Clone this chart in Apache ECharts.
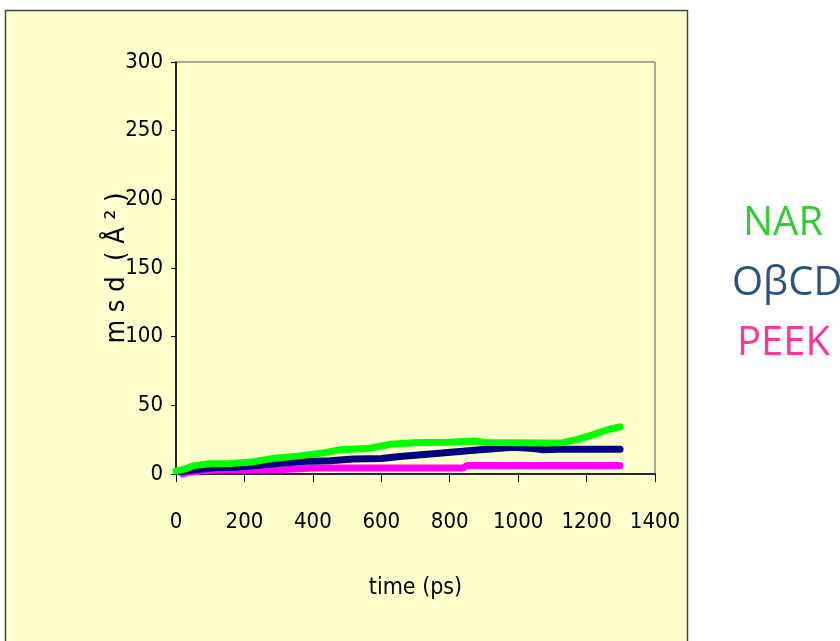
<!DOCTYPE html>
<html>
<head>
<meta charset="utf-8">
<script src="https://cdn.jsdelivr.net/npm/echarts@6/dist/echarts.min.js"></script>
<style>
  html, body { margin: 0; padding: 0; background: #ffffff; }
  #chart { width: 840px; height: 641px; }
</style>
</head>
<body>
<div id="chart"></div>
<script>
// Mean square displacement over simulation time for three molecules
const seriesNames = ['NAR', 'OβCD', 'PEEK'];

const narTime = [0, 25, 49, 98, 160, 224, 283, 361, 439, 478, 560, 625, 712, 800, 869, 908, 1000, 1074, 1130, 1171, 1220, 1269, 1298];
const narMsd  = [2.2, 3.5, 5.9, 7.4, 7.6, 8.8, 11.3, 13.2, 15.7, 17.6, 18.5, 21.6, 23.0, 23.2, 24.0, 23.0, 22.8, 22.5, 22.8, 25.0, 28.7, 32.8, 34.3];

const obcdTime = [10, 60, 117, 180, 244, 303, 381, 450, 518, 600, 654, 752, 820, 889, 986, 1045, 1074, 1120, 1200, 1298];
const obcdMsd  = [1.7, 3.2, 4.7, 5.0, 6.4, 7.8, 9.3, 9.6, 11.0, 11.3, 12.7, 14.7, 16.2, 17.6, 19.4, 18.6, 17.6, 18.1, 18.1, 18.1];

const peekTime = [20, 39, 117, 300, 400, 600, 840, 850, 1000, 1298];
const peekMsd  = [0.0, 1.5, 2.9, 3.0, 4.4, 4.4, 4.4, 6.1, 6.1, 6.1];

const xTicks = { min: 0, max: 1400, interval: 200 };
const yTicks = { min: 0, max: 300, interval: 50 };

const lineColors  = ['#00ff00', '#000080', '#ff00ff'];
const labelColors = ['#33cc33', '#2b5282', '#ff3399'];
const labelLeft   = [738, 727, 732];
const labelTop    = [204, 264, 324];

const zip = (t, v) => t.map((x, i) => [x, v[i]]);
const seriesData = [zip(narTime, narMsd), zip(obcdTime, obcdMsd), zip(peekTime, peekMsd)];

const tickFont = '"DejaVu Sans Condensed", sans-serif';
const chart = echarts.init(document.getElementById('chart'), null, { renderer: 'canvas' });

chart.setOption({
  backgroundColor: '#ffffff',
  animation: false,
  graphic: [{
    type: 'rect',
    z: -10,
    silent: true,
    shape: { x: 5.5, y: 10.5, width: 682, height: 640 },
    style: { fill: '#ffffcc', stroke: '#444444', lineWidth: 1.5 }
  }],
  legend: seriesNames.map((n, i) => ({
    left: labelLeft[i],
    top: labelTop[i],
    itemWidth: 0,
    itemHeight: 0,
    itemGap: 0,
    icon: 'none',
    selectedMode: false,
    padding: 0,
    data: [{
      name: n,
      textStyle: { color: labelColors[i], fontSize: 40, fontFamily: '"Open Sans", sans-serif' }
    }]
  })),
  grid: {
    left: 176, right: 185, top: 62, bottom: 167,
    show: true, borderColor: '#555555', borderWidth: 1, backgroundColor: 'transparent'
  },
  xAxis: {
    type: 'value',
    min: xTicks.min, max: xTicks.max, interval: xTicks.interval,
    name: 'time (ps)',
    nameLocation: 'middle',
    nameGap: 103,
    nameMoveOverlap: false,
    nameTextStyle: { color: '#000', fontSize: 23, fontFamily: tickFont },
    axisLine: { lineStyle: { color: '#000', width: 1.5 } },
    axisTick: { show: true, length: 8, lineStyle: { color: '#000' } },
    axisLabel: { color: '#000', fontSize: 22, margin: 37, fontFamily: tickFont, formatter: v => String(v) },
    splitLine: { show: false }
  },
  yAxis: {
    type: 'value',
    min: yTicks.min, max: yTicks.max, interval: yTicks.interval,
    name: 'm s d  ( Å ² )',
    nameLocation: 'middle',
    nameGap: 46,
    nameMoveOverlap: false,
    nameTextStyle: { color: '#000', fontSize: 27, fontFamily: tickFont },
    axisLine: { show: true, lineStyle: { color: '#000', width: 1.5 } },
    axisTick: { show: true, length: 5, lineStyle: { color: '#000' } },
    axisLabel: { color: '#000', fontSize: 22, margin: 13, fontFamily: tickFont, formatter: v => String(v) },
    splitLine: { show: false }
  },
  series: seriesNames.map((n, i) => ({
    name: n,
    type: 'line',
    data: seriesData[i],
    showSymbol: false,
    symbol: 'none',
    itemStyle: { color: lineColors[i] },
    lineStyle: { color: lineColors[i], width: 7, cap: 'round', join: 'round' },
    z: 3 - i
  }))
});
</script>
</body>
</html>
